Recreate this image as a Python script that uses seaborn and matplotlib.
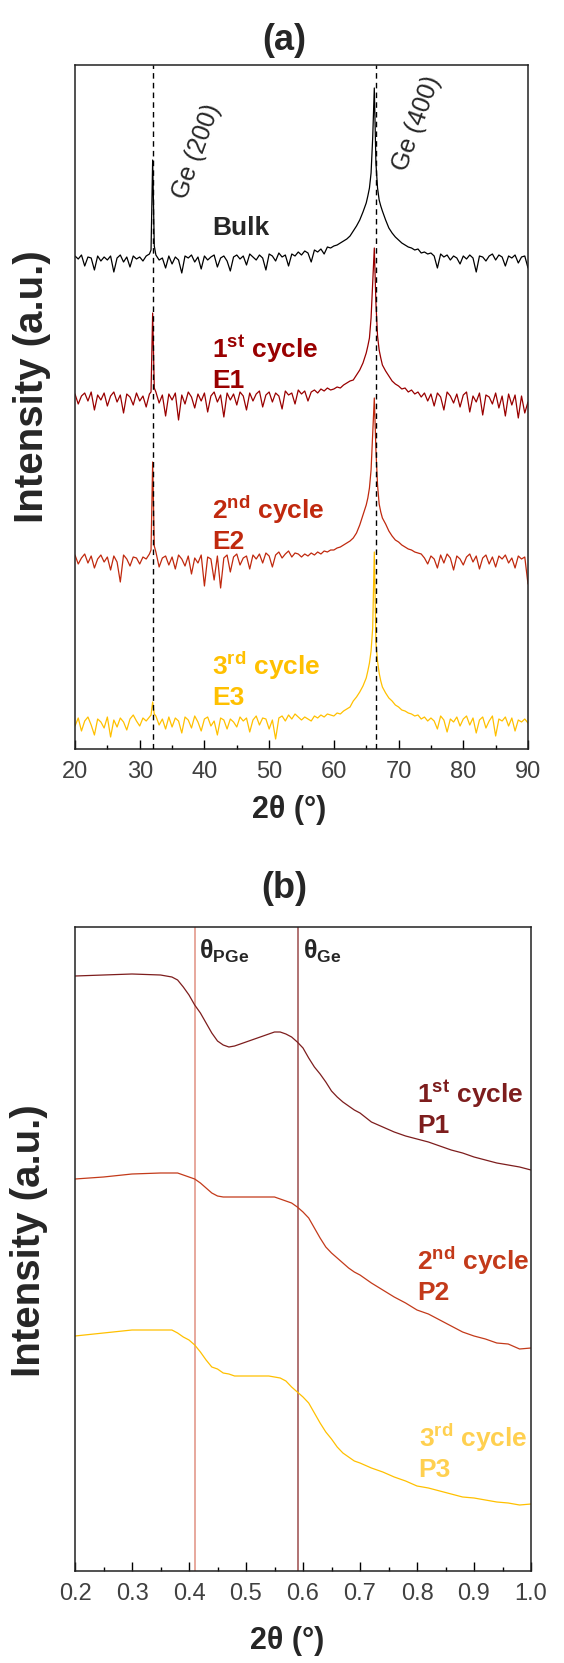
import numpy as np
import pandas as pd
import matplotlib
matplotlib.use("Agg")
import matplotlib.pyplot as plt
from matplotlib.ticker import MultipleLocator, FormatStrFormatter
import seaborn as sns

# Configuración de estilo
sns.set_style("ticks")
plt.rcParams['font.family'] = ['Liberation Sans', 'DejaVu Sans']
plt.rcParams['mathtext.fontset'] = 'custom'
plt.rcParams['mathtext.rm'] = 'Liberation Sans'
plt.rcParams['mathtext.bf'] = 'Liberation Sans:bold'
plt.rcParams['mathtext.it'] = 'Liberation Sans:italic'

# ---------------------------------------------------------------
# (a) XRD: rejilla 2θ cada 0.5° + puntos extra en los picos
# ---------------------------------------------------------------
two_theta_grid = np.arange(20, 90.01, 0.5)
two_theta_peaks = [31.75, 32.25, 65.25, 65.75, 66.25, 66.75, 67.25]

bulk_offset = 491
bulk_grid = [2, -1, 3, -8, 1, 0, -12, 2, -3, 1,
             -2, 2, -14, 0, 3, -4, 1, -9, 2, -1,
             1, -3, 2, 4, 98, 3, -2, 0, -10, 2,
             -6, 1, -2, -15, 2, 0, 3, -4, 1, -11,
             2, -2, 1, 3, -9, 0, 2, -3, -13, 1,
             3, -1, 2, -7, 4, 1, -2, 3, 0, -12,
             4, 2, -3, 5, 1, 3, -8, 4, 2, 6,
             3, 7, 5, -4, 8, 6, 9, 4, 11, 10,
             12, 13, 15, 17, 19, 22, 27, 32, 38, 46,
             55, 70, 120, 95, 58, 47, 38, 30, 25, 21,
             18, 15, 13, 11, 10, 8, 9, 5, 6, 4,
             5, 2, -10, 4, 1, 3, -2, 2, 0, -6,
             2, -1, 3, 0, -14, 2, 1, -3, 2, 4,
             -2, 3, 1, -8, 2, 0, 3, -5, 1, 2,
             -10]
bulk_peaks = [8, 12, 62, 85, 170, 70, 52]

e1_offset = 351
e1_grid = [4, -6, 2, 5, -3, 6, -12, 3, -2, 5,
           -8, 2, 6, -4, 3, -15, 4, 1, -7, 5,
           -3, 2, -9, 4, 85, 6, -5, 3, -18, 4,
           -2, 5, -22, 3, -6, 6, 1, -10, 4, -3,
           5, -14, 2, 6, -4, 3, -19, 5, -2, 4,
           -7, 6, 2, -12, 5, -3, 4, 7, -9, 3,
           6, -4, 5, 2, -11, 7, 3, 5, -6, 8,
           4, 7, -3, 6, 8, 5, 9, 7, 10, 8,
           9, 11, 10, 13, 15, 17, 18, 23, 28, 35,
           45, 60, 115, 95, 48, 33, 27, 22, 17, 14,
           12, 9, 10, 6, 8, 4, 6, 1, 5, -3,
           4, -8, 5, 1, -12, 6, 2, -5, 4, -9,
           3, 6, -14, 2, -4, 5, -17, 3, 1, -6,
           5, -10, 2, -18, 4, -7, 3, -20, 2, -15,
           -4]
e1_peaks = [6, 10, 52, 80, 150, 62, 40]

e2_offset = 189
e2_grid = [5, -4, 2, 6, -3, 4, -8, 1, 5, -2,
           3, -10, 4, -2, -22, 5, 1, -6, 3, 2,
           -4, 3, 1, 6, 98, 8, -7, 2, 4, -5,
           3, -9, 5, 1, -6, 4, -14, 2, -3, 5,
           -26, 3, 1, -20, 4, -28, 2, 5, -12, 3,
           6, -5, 2, 4, -9, 5, 1, 6, -3, 7,
           4, -7, 5, 8, 2, 6, 9, 3, 7, 6,
           3, 6, 4, 7, 5, 8, 6, 9, 8, 10,
           10, 12, 13, 15, 17, 19, 22, 27, 35, 45,
           55, 72, 125, 110, 56, 42, 36, 29, 24, 20,
           18, 15, 13, 11, 10, 8, 7, 6, 2, -4,
           4, 1, -8, 5, -3, 6, 2, -10, 4, 1,
           -5, 3, 6, -2, 4, -9, 2, 5, -4, 3,
           -7, 4, 1, 5, -3, 2, -8, 4, 1, 3,
           -24]
e2_peaks = [10, 14, 62, 90, 162, 75, 48]

e3_offset = 26
e3_grid = [-3, 5, -8, 2, 6, -2, -12, 4, 1, -5,
           6, -14, 3, -4, 5, 1, -7, 4, 8, 2,
           -3, 5, 2, 6, 21, 7, -2, 4, -6, 6,
           -4, 5, 2, -10, 6, 3, -5, 7, 1, -8,
           4, 6, -3, 2, -12, 5, 3, -6, 4, 1,
           -4, 6, 2, 5, -9, 3, 7, -2, 5, 4,
           -6, 3, -16, 5, 7, 2, 8, 4, 9, 6,
           3, 6, 4, 2, 7, 5, 8, 6, 9, 8,
           7, 10, 9, 12, 14, 16, 22, 26, 31, 37,
           45, 60, 95, 80, 50, 36, 30, 25, 22, 18,
           16, 13, 12, 10, 9, 7, 8, 4, 6, 2,
           5, 2, -6, 7, 3, -9, 4, 1, 6, -3,
           4, 7, -2, 5, -10, 3, 6, -5, 2, 7,
           -13, 4, 2, 6, -3, 5, -8, 3, 1, 4,
           0]
e3_peaks = [8, 9, 52, 72, 171, 62, 42]

ge_lines = [32.0, 66.45]

# ---------------------------------------------------------------
# (b) bajo ángulo
# ---------------------------------------------------------------
two_theta_b = [0.20, 0.25, 0.30, 0.35,
               0.37, 0.38, 0.39, 0.40, 0.41, 0.42, 0.43, 0.44, 0.45, 0.46,
               0.47, 0.48, 0.49, 0.50,
               0.52, 0.54,
               0.55, 0.56, 0.57, 0.58, 0.59, 0.60, 0.61, 0.62, 0.63, 0.64,
               0.65, 0.66, 0.67, 0.68, 0.69, 0.70,
               0.72, 0.74, 0.76, 0.78, 0.80, 0.82, 0.84, 0.86, 0.88, 0.90,
               0.92, 0.94, 0.96, 0.98, 1.00]
p1 = [595, 596, 597, 596,
      594, 591, 584, 576, 566, 558, 548, 538, 530, 526,
      524, 525, 527, 529,
      533, 537,
      539, 539, 537, 534, 529, 523, 513, 504, 497, 489,
      480, 474, 469, 465, 461, 458,
      449, 444, 439, 435, 432, 429, 425, 421, 418, 414,
      411, 408, 406, 404, 401]
p2 = [392, 394, 397, 398,
      398, 398, 396, 394, 392, 388, 383, 378, 375, 374,
      374, 374, 374, 374,
      374, 374,
      374, 372, 370, 368, 364, 359, 353, 343, 333, 324,
      318, 313, 308, 303, 299, 296,
      288, 281, 274, 268, 261, 257, 251, 245, 239, 235,
      232, 228, 227, 222, 223]
p3 = [235, 238, 241, 241,
      241, 238, 234, 231, 226, 219, 211, 204, 202, 198,
      197, 195, 195, 195,
      195, 195,
      194, 193, 190, 184, 179, 174, 168, 158, 148, 139,
      132, 124, 118, 114, 110, 108,
      103, 99, 94, 90, 85, 83, 80, 77, 74, 73,
      71, 69, 68, 66, 67]
theta_lines = [0.41, 0.592]

# colores
colors_a = {"Bulk": "black", "E1": "#990000", "E2": "#C0290E", "E3": "#FFC000"}
colors_b = {"P1": "#7D1D1D", "P2": "#C33A1A", "P3": "#FFC000"}
theta_line_colors = ["#E39A8C", "#A35A5A"]


def xrd_frame():
    """Une las curvas de (a) en un DataFrame largo"""
    x = np.concatenate([two_theta_grid, two_theta_peaks])
    parts = []
    for name, off, grid, peaks in [("Bulk", bulk_offset, bulk_grid, bulk_peaks),
                                   ("E1", e1_offset, e1_grid, e1_peaks),
                                   ("E2", e2_offset, e2_grid, e2_peaks),
                                   ("E3", e3_offset, e3_grid, e3_peaks)]:
        y = off + np.concatenate([grid, peaks])
        parts.append(pd.DataFrame({"two_theta": x, "intensity": y, "sample": name}))
    return pd.concat(parts, ignore_index=True)


def saxs_frame():
    parts = []
    for name, vals in [("P1", p1), ("P2", p2), ("P3", p3)]:
        parts.append(pd.DataFrame({"two_theta": two_theta_b, "intensity": vals, "sample": name}))
    return pd.concat(parts, ignore_index=True)


def style_axis(ax, major, minor, pad):
    ax.set_yticks([])
    ax.set_xlabel('')
    ax.set_ylabel('')
    ax.xaxis.set_major_locator(MultipleLocator(major))
    ax.xaxis.set_minor_locator(MultipleLocator(minor))
    ax.tick_params(axis='x', which='major', direction='in', length=6.5, width=1.0,
                   pad=pad, labelsize=17, labelcolor='#404040', color='black')
    ax.tick_params(axis='x', which='minor', direction='in', length=3, width=1.0, color='black')
    for s in ax.spines.values():
        s.set_visible(True)
        s.set_linewidth(1.1)
        s.set_color('#222222')


fig = plt.figure(figsize=(5.64, 16.63), dpi=100)
W, H = 564.0, 1663.0

# ---------------- Panel (a) ----------------
ax_a = fig.add_axes([75 / W, 1 - 749 / H, 453 / W, 684 / H])
sns.lineplot(data=xrd_frame(), x="two_theta", y="intensity", hue="sample",
             palette=colors_a, estimator=None, sort=True, linewidth=0.9,
             legend=False, ax=ax_a)
for xv in ge_lines:
    ax_a.axvline(xv, color='black', linestyle=(0, (4, 3)), linewidth=1.0, zorder=4)
ax_a.set_xlim(20, 90)
ax_a.set_ylim(0, 684)
style_axis(ax_a, 10, 5, 8.5)

ax_a.text(38.8, 598, "Ge (200)", rotation=70, fontsize=18, ha='center', va='center')
ax_a.text(72.8, 626, "Ge (400)", rotation=70, fontsize=18, ha='center', va='center')
ax_a.text(45.6, 521, "Bulk", fontsize=19, fontweight='bold', ha='center', va='center')
ax_a.text(41.2, 386, "1$^{\\mathbf{st}}$ cycle\nE1", color=colors_a["E1"], fontsize=19,
          fontweight='bold', ha='left', va='center', linespacing=1.2)
ax_a.text(41.2, 225, "2$^{\\mathbf{nd}}$ cycle\nE2", color=colors_a["E2"], fontsize=19,
          fontweight='bold', ha='left', va='center', linespacing=1.2)
ax_a.text(41.2, 69, "3$^{\\mathbf{rd}}$ cycle\nE3", color=colors_a["E3"], fontsize=19,
          fontweight='bold', ha='left', va='center', linespacing=1.2)

fig.text(284 / W, 1 - 41 / H, "(a)", fontsize=26, fontweight='bold', ha='center', va='center')
fig.text(289 / W, 1 - 810 / H, "2θ (°)", fontsize=22, fontweight='bold', ha='center', va='center')
fig.text(32 / W, 1 - 387 / H, "Intensity (a.u.)", rotation=90, fontsize=29,
         fontweight='bold', ha='center', va='center')

# ---------------- Panel (b) ----------------
ax_b = fig.add_axes([75 / W, 1 - 1571 / H, 456 / W, 644 / H])
sns.lineplot(data=saxs_frame(), x="two_theta", y="intensity", hue="sample",
             palette=colors_b, estimator=None, sort=True, linewidth=0.9,
             legend=False, ax=ax_b)
for xv, c in zip(theta_lines, theta_line_colors):
    ax_b.axvline(xv, color=c, linewidth=1.2, zorder=1)
ax_b.set_xlim(0.2, 1.0)
ax_b.set_ylim(0, 644)
style_axis(ax_b, 0.1, 0.05, 9)
ax_b.xaxis.set_major_formatter(FormatStrFormatter('%.1f'))

ax_b.text(theta_lines[0] + 0.008, 620, "θ$_{\\mathbf{PGe}}$", fontsize=18,
          fontweight='bold', ha='left', va='center')
ax_b.text(theta_lines[1] + 0.008, 620, "θ$_{\\mathbf{Ge}}$", fontsize=18,
          fontweight='bold', ha='left', va='center')
ax_b.text(0.80, 463, "1$^{\\mathbf{st}}$ cycle\nP1", color=colors_b["P1"], fontsize=19,
          fontweight='bold', ha='left', va='center', linespacing=1.2)
ax_b.text(0.80, 296, "2$^{\\mathbf{nd}}$ cycle\nP2", color=colors_b["P2"], fontsize=19,
          fontweight='bold', ha='left', va='center', linespacing=1.2)
ax_b.text(0.803, 119, "3$^{\\mathbf{rd}}$ cycle\nP3", color="#FFD050", fontsize=19,
          fontweight='bold', ha='left', va='center', linespacing=1.2)

fig.text(284 / W, 1 - 889 / H, "(b)", fontsize=26, fontweight='bold', ha='center', va='center')
fig.text(287 / W, 1 - 1641 / H, "2θ (°)", fontsize=22, fontweight='bold', ha='center', va='center')
fig.text(29 / W, 1 - 1241 / H, "Intensity (a.u.)", rotation=90, fontsize=29,
         fontweight='bold', ha='center', va='center')

fig.savefig("out.png", dpi=100)
